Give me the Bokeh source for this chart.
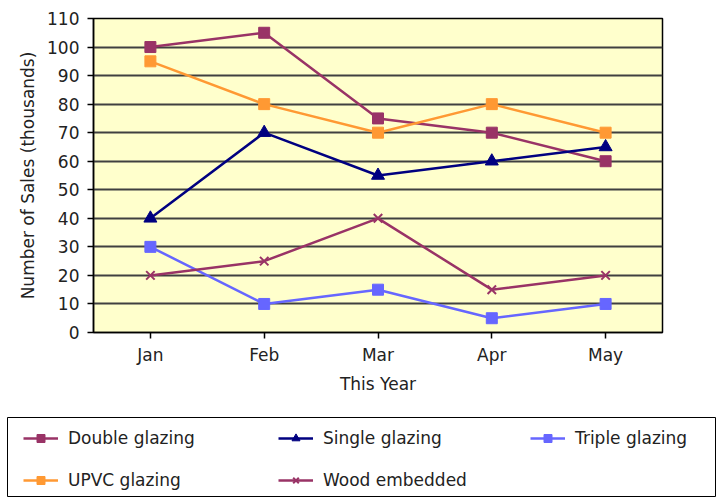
from bokeh.plotting import figure
from bokeh.models import FactorRange, Range1d, Legend, LegendItem, FixedTicker
from bokeh.embed import file_html
from bokeh.resources import INLINE

months = ["Jan", "Feb", "Mar", "Apr", "May"]
double_glazing = [100, 105, 75, 70, 60]
single_glazing = [40, 70, 55, 60, 65]
triple_glazing = [30, 10, 15, 5, 10]
upvc_glazing = [95, 80, 70, 80, 70]
wood_embedded = [20, 25, 40, 15, 20]
y_ticks = list(range(0, 111, 10))

FONT = "DejaVu Sans"
FS = "17px"

series = [
    ("Double glazing", double_glazing, "#993366", "square", 11),
    ("Single glazing", single_glazing, "#000080", "triangle", 13),
    ("Triple glazing", triple_glazing, "#6666FF", "square", 11),
    ("UPVC glazing", upvc_glazing, "#FF9933", "square", 11),
    ("Wood embedded", wood_embedded, "#993366", "x", 12),
]


def add_series(fig):
    out = []
    for label, vals, color, marker, size in series:
        ln = fig.line(months, vals, line_color=color, line_width=2.5)
        if marker == "x":
            mk = fig.scatter(months, vals, marker="x", size=size, line_color=color, line_width=2)
        else:
            mk = fig.scatter(months, vals, marker=marker, size=size, fill_color=color, line_color=color)
        out.append(LegendItem(label=label, renderers=[ln, mk]))
    return out


# ---- main chart ----
p = figure(x_range=FactorRange(*months, range_padding=0),
           y_range=Range1d(0, 110), output_backend="svg", toolbar_location=None,
           min_border_left=93, min_border_top=18, min_border_right=60, min_border_bottom=83,
           frame_width=569, frame_height=314)
p.background_fill_color = "#FFFFCC"
p.border_fill_color = "white"
p.outline_line_color = "black"
p.outline_line_width = 1.5
p.xgrid.grid_line_color = None
p.ygrid.grid_line_color = "#404040"
p.ygrid.grid_line_width = 1.8

p.yaxis.ticker = FixedTicker(ticks=y_ticks)
for ax in (p.xaxis[0], p.yaxis[0]):
    ax.axis_line_color = "black"
    ax.axis_line_width = 1.5
    ax.major_tick_line_color = "black"
    ax.major_tick_line_width = 1.5
    ax.major_tick_out = 6
    ax.major_tick_in = 0
    ax.minor_tick_line_color = None
    ax.major_label_text_font = FONT
    ax.major_label_text_font_size = FS
    ax.major_label_text_color = "#222222"
    ax.axis_label_text_font = FONT
    ax.axis_label_text_font_size = FS
    ax.axis_label_text_font_style = "normal"
    ax.axis_label_text_color = "#222222"
p.xaxis.axis_label = "This Year"
p.yaxis.axis_label = "Number of Sales (thousands)"
p.xaxis.major_label_standoff = 6
p.xaxis.axis_label_standoff = 6
p.yaxis.major_label_standoff = 8
p.yaxis.axis_label_standoff = 6

add_series(p)

# ---- legend box (separate strip below; its series lie outside its view) ----
lg = figure(x_range=FactorRange(*months, range_padding=0), y_range=Range1d(1000, 1001),
            x_axis_type=None, y_axis_type=None, output_backend="svg", toolbar_location=None,
            min_border_left=7, min_border_right=7, min_border_top=2, min_border_bottom=1,
            frame_width=708, frame_height=79)
lg.grid.grid_line_color = None
lg.background_fill_color = "white"
lg.border_fill_color = "white"
lg.outline_line_color = "black"
lg.outline_line_width = 1

items = add_series(lg)
cols = [([items[0], items[3]], 16, 6), ([items[1], items[4]], 271, 6), ([items[2]], 523, 48)]
for its, x, y in cols:
    leg = Legend(items=its, location=(x, y), orientation="vertical",
                 glyph_width=35, glyph_height=20, label_standoff=10,
                 spacing=22, padding=0, margin=0,
                 label_text_font=FONT, label_text_font_size=FS, label_text_color="#222222",
                 border_line_color=None, background_fill_alpha=0)
    lg.add_layout(leg, "center")

open("out.html", "w").write(file_html([p, lg], INLINE))
